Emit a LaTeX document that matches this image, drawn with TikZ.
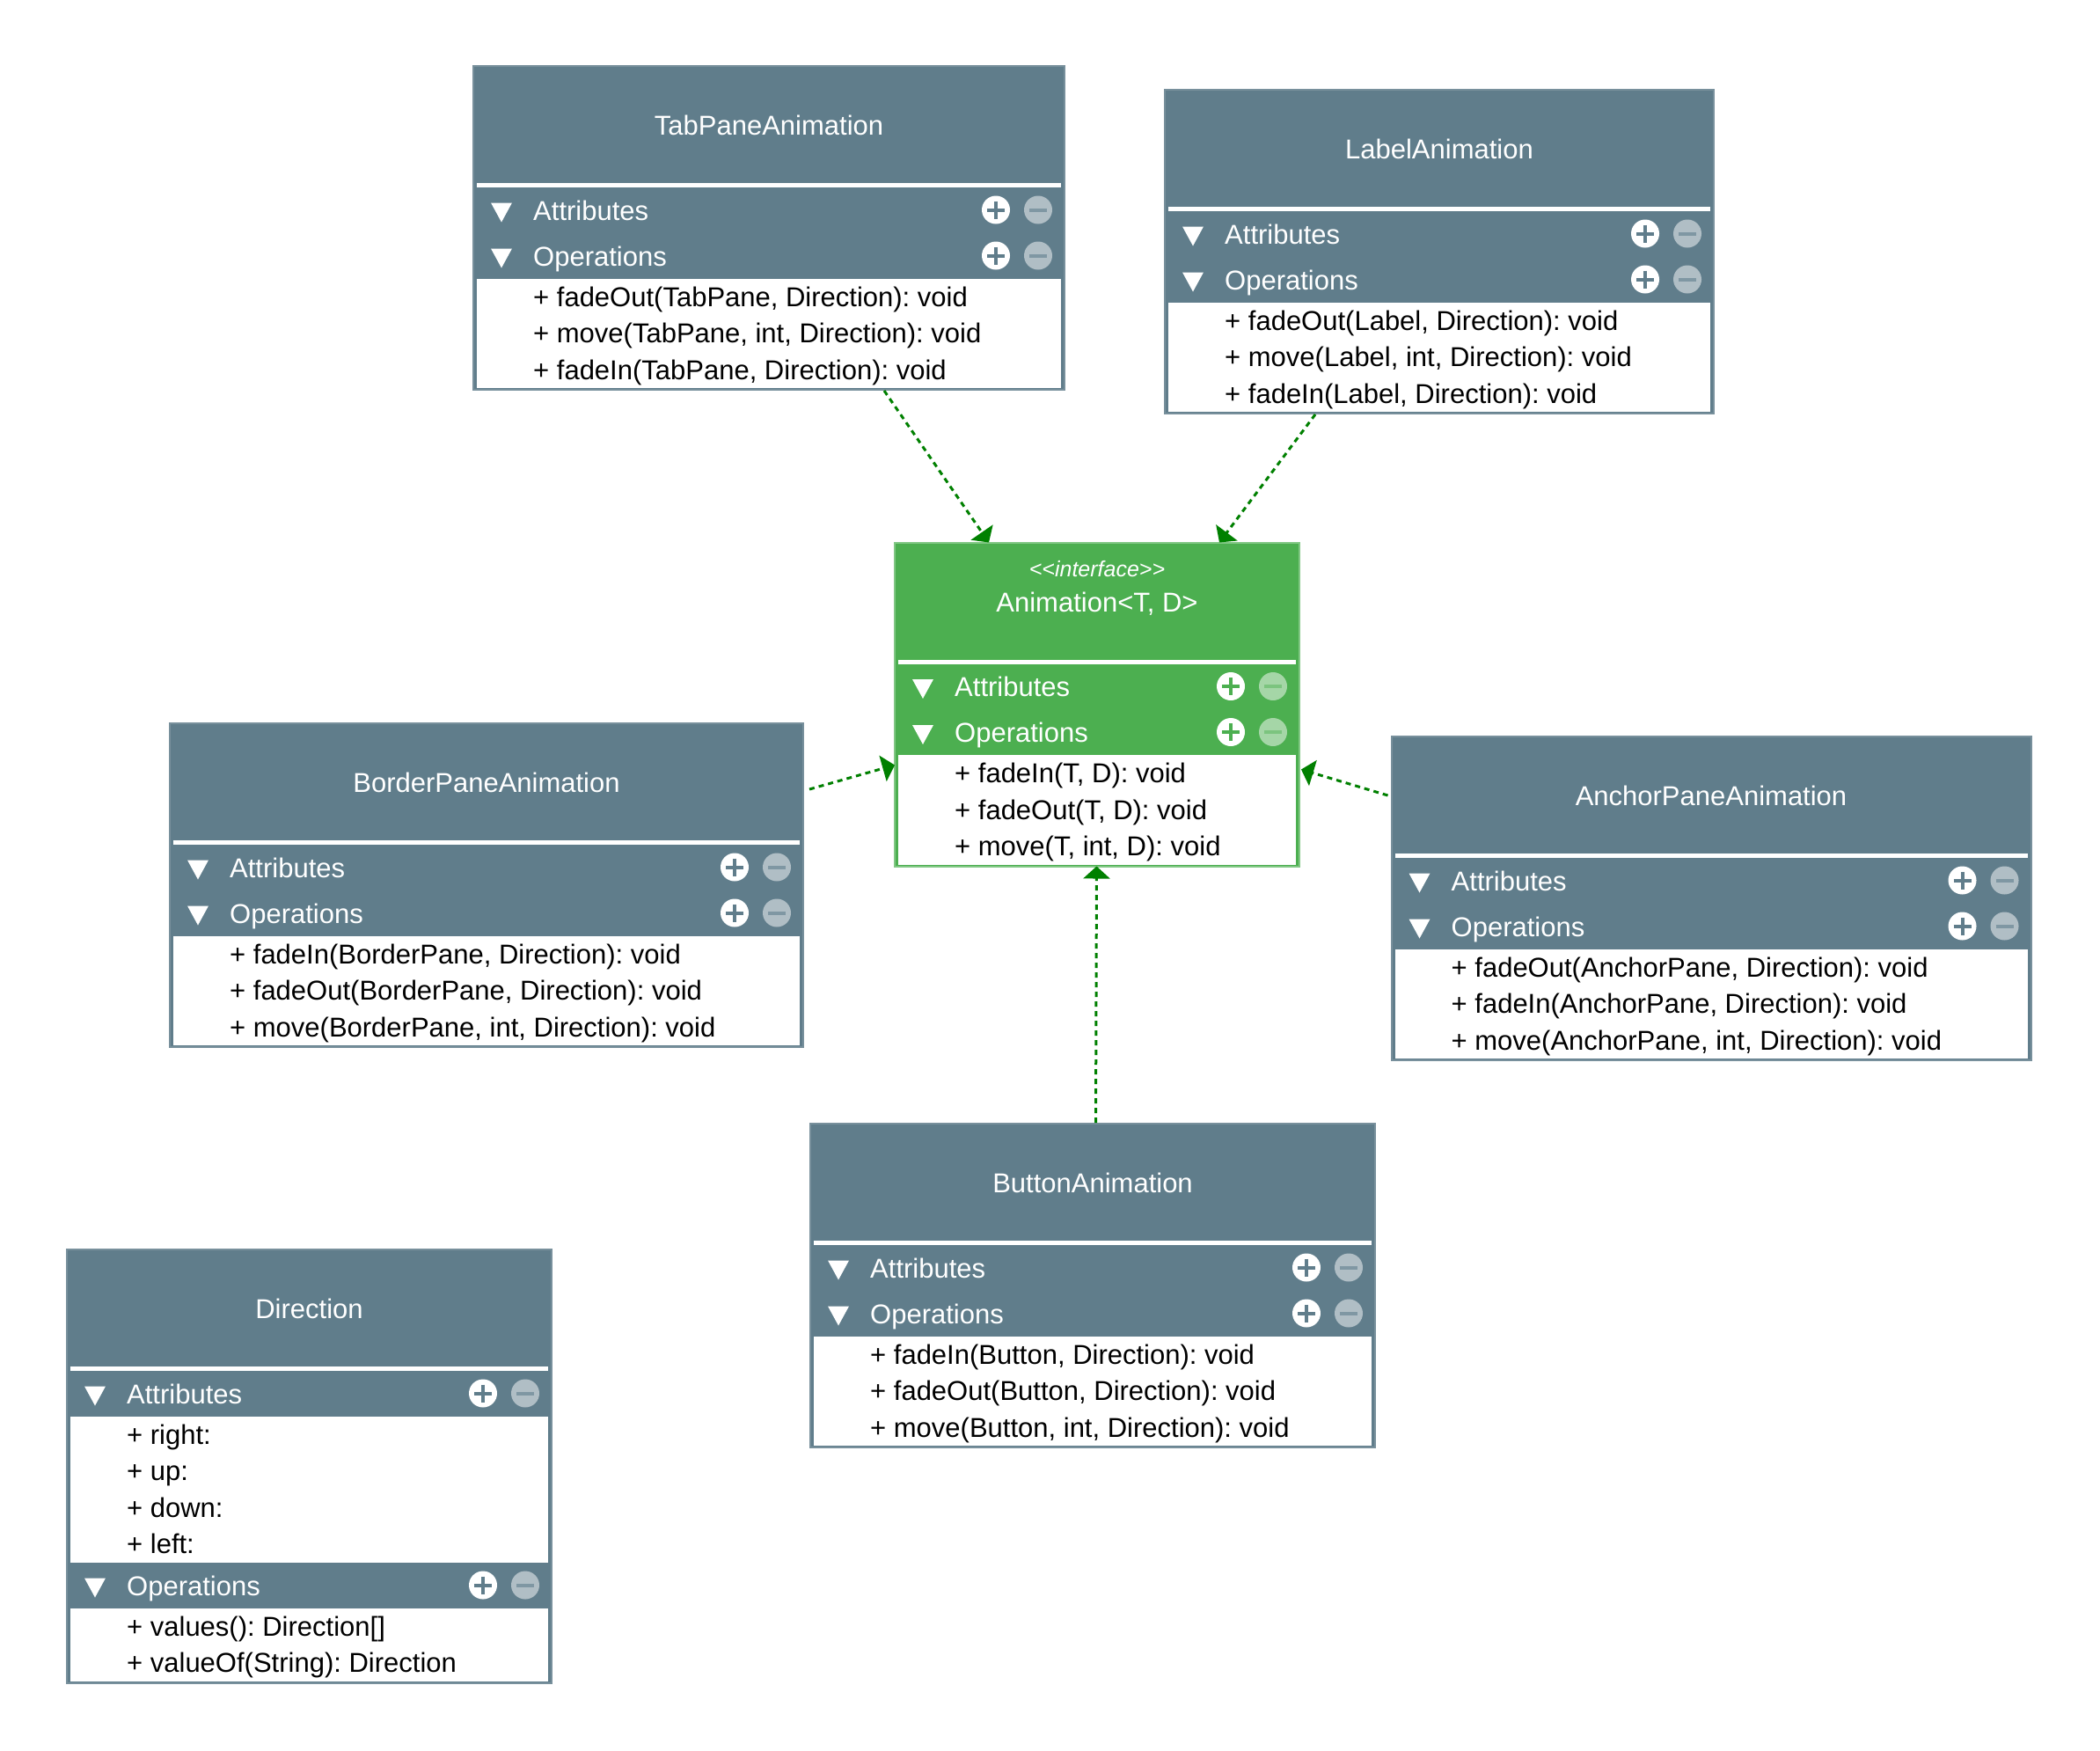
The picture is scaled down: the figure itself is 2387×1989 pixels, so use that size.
\documentclass[tikz,border=0pt]{standalone}
\usepackage{fontspec}
\setmainfont{Liberation Sans}
\frenchspacing
\usetikzlibrary{calc,arrows.meta}

\definecolor{slate}{HTML}{607D8B}
\definecolor{slateedge}{HTML}{78909C}
\definecolor{slatelight}{HTML}{B0BEC5}
\definecolor{slatebar}{HTML}{7F97A3}
\definecolor{leaf}{HTML}{4CAF50}
\definecolor{leafedge}{HTML}{81C784}
\definecolor{leaflight}{HTML}{A5D6A7}
\definecolor{leafbar}{HTML}{7CC47F}
\definecolor{realize}{HTML}{008000}

\tikzset{
  classframe/.style={rectangle, anchor=north west, inner sep=0pt, outer sep=0pt,
    fill=#1, draw=#1edge, line width=2pt},
  titletext/.style={text=white, font=\fontsize{31}{37}\selectfont, inner sep=0pt, anchor=base},
  stereotext/.style={text=white, font=\fontsize{25}{30}\selectfont\itshape, inner sep=0pt, anchor=base},
  rowtext/.style={text=white, font=\fontsize{31}{37}\selectfont, inner sep=0pt, anchor=base west},
  itemtext/.style={text=black, font=\fontsize{31}{37}\selectfont, inner sep=0pt, anchor=base west},
  realization/.style={draw=realize, line width=3pt, dash pattern=on 6pt off 5pt,
    -{Triangle[width=30pt,length=14pt]}},
}

% class frame with title band and separator
% #1 name, #2 theme, #3 x, #4 y, #5 width, #6 height, #7 title
\newcommand\classbox[7]{%
  \node[classframe=#2, minimum width=#5pt, minimum height=#6pt] (#1) at (#3,#4) {};
  \fill[white] ($(#1.north west)+(4,133)$) rectangle ($(#1.north east)+(-4,138)$);
  \node[titletext] at ($(#1.north)+(0,78.5)$) {#7};
}

% compartment bar: triangle, label, add/remove buttons
% #1 node, #2 theme, #3 centre offset from top, #4 label
\newcommand\classrow[4]{%
  \fill[white] ($(#1.north west)+(20,#3-8)$) -- ($(#1.north west)+(44,#3-8)$)
    -- ($(#1.north west)+(32,#3+14)$) -- cycle;
  \node[rowtext] at ($(#1.north west)+(68,#3+11.5)$) {#4};
  \begin{scope}[shift={($(#1.north east)+(-78,#3)$)}]
    \fill[white] (0,0) circle (16pt);
    \draw[#2, line width=4pt] (-10,0) -- (10,0) (0,-10) -- (0,10);
  \end{scope}
  \begin{scope}[shift={($(#1.north east)+(-30,#3)$)}]
    \fill[#2light] (0,0) circle (16pt);
    \draw[#2bar, line width=4pt] (-10,0) -- (10,0);
  \end{scope}
}

% white member list
% #1 node, #2 top offset, #3 number of lines, #4 lines
\newcommand\classitems[4]{%
  \fill[white] ($(#1.north west)+(4,#2)$) rectangle ($(#1.north east)+(-4,#2+41.5*#3)$);
  \foreach \itm [count=\k] in {#4} {
    \node[itemtext] at ($(#1.north west)+(68,#2+41.5*\k-9.75)$) {\itm};
  }
}

\begin{document}
\begin{tikzpicture}[x=1pt, y=-1pt]
  \fill[white] (0,0) rectangle (2387,1989);
  \useasboundingbox (0,0) rectangle (2387,1989);

  % TabPaneAnimation
  \classbox{tab}{slate}{538}{75}{672}{368}{TabPaneAnimation}
  \classrow{tab}{slate}{163.5}{Attributes}
  \classrow{tab}{slate}{215.5}{Operations}
  \classitems{tab}{241.5}{3}{{+ fadeOut(TabPane, Direction): void},
    {+ move(TabPane, int, Direction): void},
    {+ fadeIn(TabPane, Direction): void}}

  % LabelAnimation
  \classbox{label}{slate}{1324}{102}{624}{368}{LabelAnimation}
  \classrow{label}{slate}{163.5}{Attributes}
  \classrow{label}{slate}{215.5}{Operations}
  \classitems{label}{241.5}{3}{{+ fadeOut(Label, Direction): void},
    {+ move(Label, int, Direction): void},
    {+ fadeIn(Label, Direction): void}}

  % Animation interface
  \classbox{iface}{leaf}{1017}{616.5}{460}{368}{Animation<T, D>}
  \node[stereotext] (ifacestereo) at ($(iface.north)+(0,38.5)$) {<{}<interface>{}>};
  \classrow{iface}{leaf}{163.5}{Attributes}
  \classrow{iface}{leaf}{215.5}{Operations}
  \classitems{iface}{241.5}{3}{{+ fadeIn(T, D): void},
    {+ fadeOut(T, D): void},
    {+ move(T, int, D): void}}

  % BorderPaneAnimation
  \classbox{border}{slate}{193}{822}{720}{368}{BorderPaneAnimation}
  \classrow{border}{slate}{163.5}{Attributes}
  \classrow{border}{slate}{215.5}{Operations}
  \classitems{border}{241.5}{3}{{+ fadeIn(BorderPane, Direction): void},
    {+ fadeOut(BorderPane, Direction): void},
    {+ move(BorderPane, int, Direction): void}}

  % AnchorPaneAnimation
  \classbox{anchorpane}{slate}{1581.5}{837}{727}{368}{AnchorPaneAnimation}
  \classrow{anchorpane}{slate}{163.5}{Attributes}
  \classrow{anchorpane}{slate}{215.5}{Operations}
  \classitems{anchorpane}{241.5}{3}{{+ fadeOut(AnchorPane, Direction): void},
    {+ fadeIn(AnchorPane, Direction): void},
    {+ move(AnchorPane, int, Direction): void}}

  % ButtonAnimation
  \classbox{button}{slate}{921}{1277}{642}{368}{ButtonAnimation}
  \classrow{button}{slate}{163.5}{Attributes}
  \classrow{button}{slate}{215.5}{Operations}
  \classitems{button}{241.5}{3}{{+ fadeIn(Button, Direction): void},
    {+ fadeOut(Button, Direction): void},
    {+ move(Button, int, Direction): void}}

  % Direction enum
  \classbox{direction}{slate}{76}{1420}{551}{492.5}{Direction}
  \classrow{direction}{slate}{163.5}{Attributes}
  \classitems{direction}{189.5}{4}{{+ right:},{+ up:},{+ down:},{+ left:}}
  \classrow{direction}{slate}{381.5}{Operations}
  \classitems{direction}{407.5}{2}{{+ values(): Direction[]},
    {+ valueOf(String): Direction}}

  % realizations of the interface
  \draw[realization] ($(tab.south west)+(467,1)$) -- ($(iface.north west)+(107,0)$);
  \draw[realization] ($(label.south west)+(171,1)$) -- ($(iface.north west)+(369,0)$);
  \draw[realization] ($(border.north east)+(7,75)$) -- ($(iface.north west)+(0,253)$);
  \draw[realization] ($(anchorpane.north west)+(-4,67)$) -- ($(iface.north east)+(2,258)$);
  \draw[realization] ($(button.north west)+(324.5,-1)$) -- ($(iface.south west)+(229.5,0)$);
\end{tikzpicture}
\end{document}
